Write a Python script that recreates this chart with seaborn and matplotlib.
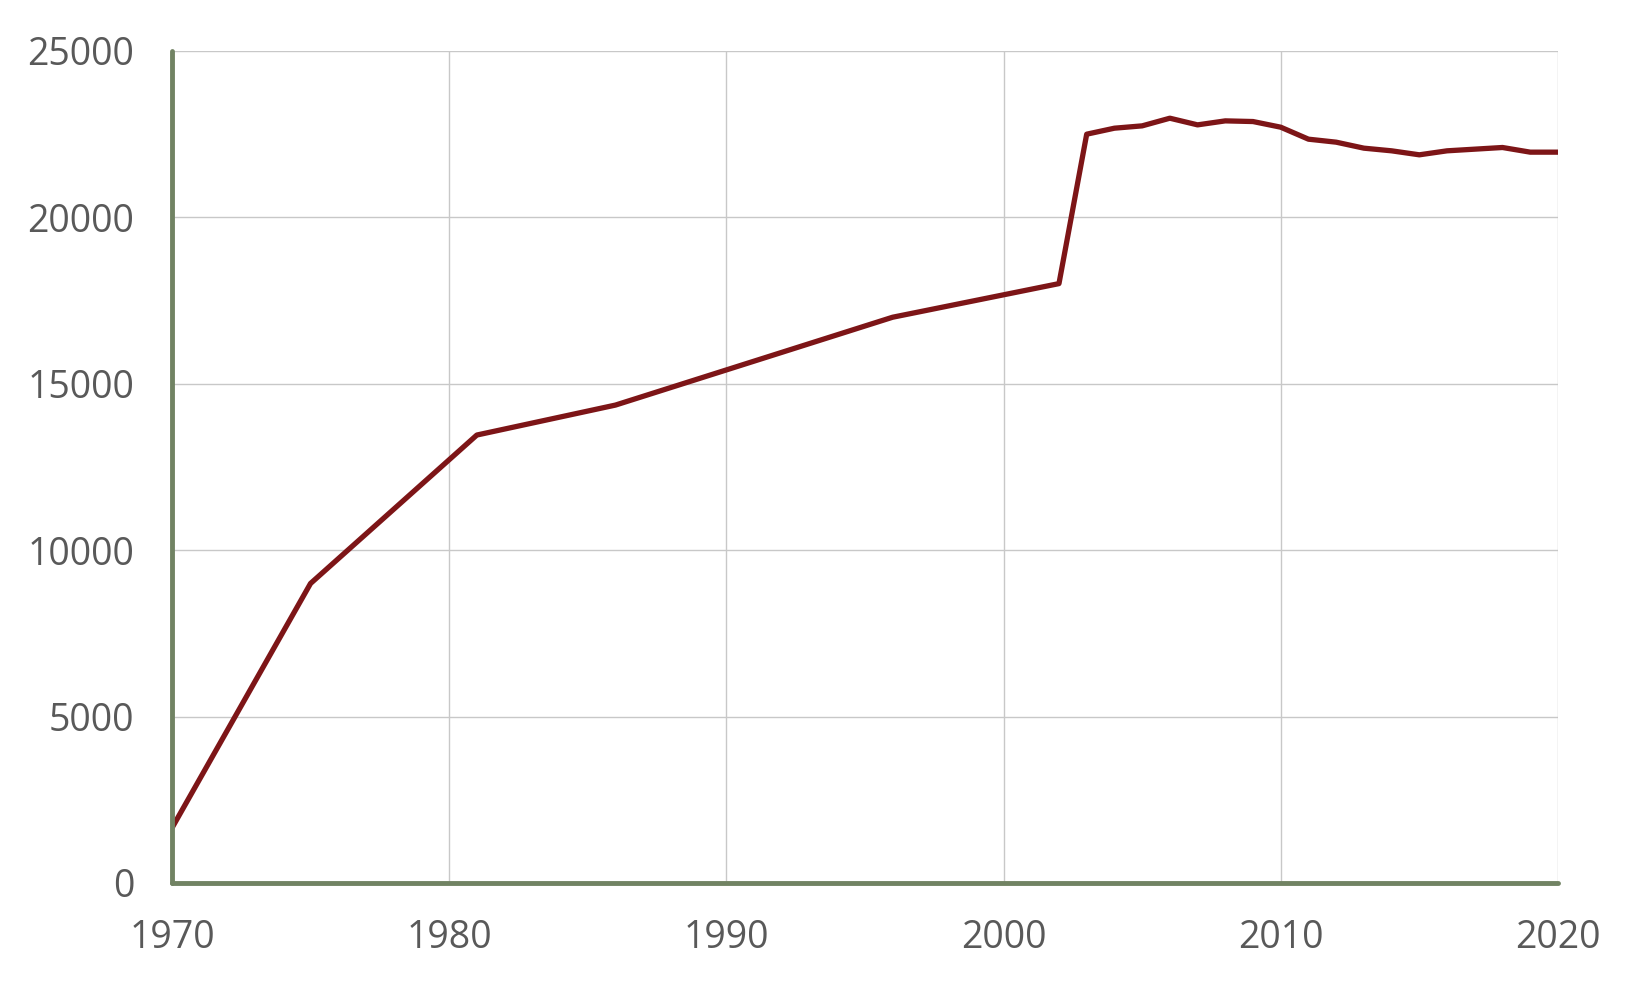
import pandas as pd
import matplotlib
matplotlib.use("Agg")
import matplotlib.pyplot as plt
import seaborn as sns

# data
years = [1970, 1975, 1981, 1986, 1996, 2002, 2003, 2004, 2005, 2006, 2007,
         2008, 2009, 2010, 2011, 2012, 2013, 2014, 2015, 2016, 2017, 2018,
         2019, 2020]
values = [1650, 9000, 13460, 14360, 17000, 18010, 22500, 22680, 22750, 22980,
          22780, 22900, 22880, 22710, 22350, 22260, 22080, 22000, 21880, 22000,
          22050, 22100, 21960, 21960]

x_ticks = [1970, 1980, 1990, 2000, 2010, 2020]
y_ticks = [0, 5000, 10000, 15000, 20000, 25000]

df = pd.DataFrame({"year": years, "value": values})

sns.set_style("white")
plt.rcParams["font.family"] = ["Open Sans", "DejaVu Sans"]

fig = plt.figure(figsize=(16.5, 9.9), dpi=100)
ax = fig.add_axes([0.1042, 0.1081, 0.84, 0.8404])

sns.lineplot(data=df, x="year", y="value", color="#7d1517", linewidth=3.8, ax=ax)

ax.set_xlim(1970, 2020)
ax.set_ylim(0, 25000)
ax.set_xticks(x_ticks)
ax.set_yticks(y_ticks)
ax.grid(True, color="#c8c8c8", linewidth=1.0)
ax.set_axisbelow(True)
ax.set_xlabel("")
ax.set_ylabel("")

for side in ["top", "right"]:
    ax.spines[side].set_visible(False)
for side in ["left", "bottom"]:
    ax.spines[side].set_color("#718363")
    ax.spines[side].set_linewidth(3.5)
    ax.spines[side].set_capstyle("round")

ax.tick_params(axis="both", length=0, labelsize=27, labelcolor="#595959")
ax.tick_params(axis="y", pad=27)
ax.tick_params(axis="x", pad=26)

fig.savefig("out.png", dpi=100)
